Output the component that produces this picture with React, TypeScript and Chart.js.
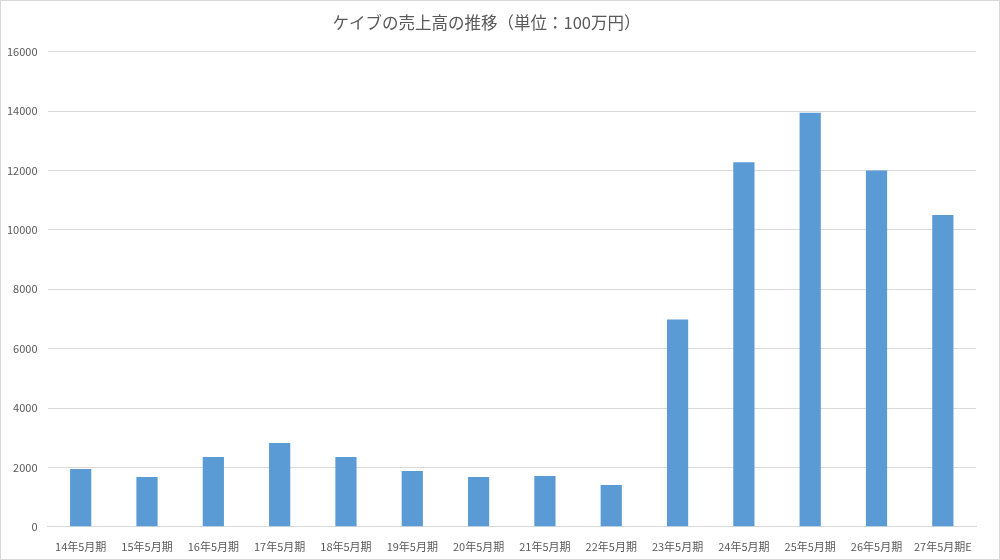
import { useEffect, useRef } from 'react';
import { Chart, registerables } from 'chart.js';

Chart.register(...registerables);

const periods = [
  '14年5月期', '15年5月期', '16年5月期', '17年5月期', '18年5月期', '19年5月期', '20年5月期',
  '21年5月期', '22年5月期', '23年5月期', '24年5月期', '25年5月期', '26年5月期', '27年5月期E'
];
const sales = [1950, 1680, 2350, 2820, 2350, 1880, 1680, 1710, 1410, 6980, 12280, 13950, 12000, 10500];
const chartTitle = 'ケイブの売上高の推移（単位：100万円）';

const FONT = '"Noto Sans CJK JP", "Noto Sans", sans-serif';

export default function App() {
  const canvasRef = useRef<HTMLCanvasElement>(null);

  useEffect(() => {
    document.body.style.margin = '0';
    const canvas = canvasRef.current;
    if (!canvas) return;
    const context = canvas.getContext('2d');
    if (!context) return;
    const chart = new Chart(context, {
      type: 'bar',
      data: {
        labels: periods,
        datasets: [{
          label: '売上高',
          data: sales,
          backgroundColor: '#5B9BD5',
          borderWidth: 0,
          categoryPercentage: 1,
          barPercentage: 0.32
        }]
      },
      options: {
        animation: false,
        responsive: true,
        maintainAspectRatio: false,
        layout: { padding: { left: -4, right: 23, top: 8, bottom: 1 } },
        plugins: {
          legend: { display: false },
          tooltip: { enabled: false },
          title: {
            display: true,
            text: chartTitle,
            color: '#595959',
            font: { family: FONT, size: 16.5, weight: 'normal' },
            padding: { top: 4, bottom: 19 }
          }
        },
        scales: {
          x: {
            grid: { display: false },
            border: { color: '#D9D9D9' },
            ticks: { color: '#595959', font: { family: FONT, size: 11 }, maxRotation: 0, autoSkip: false, padding: 5 }
          },
          y: {
            min: 0,
            max: 16000,
            ticks: {
              stepSize: 2000,
              color: '#595959',
              font: { family: FONT, size: 11 },
              padding: 10,
              callback: (v) => String(v)
            },
            grid: { color: '#D9D9D9', drawTicks: false },
            border: { display: false }
          }
        }
      }
    });
    return () => {
      chart.destroy();
    };
  }, []);

  return (
    <div style={{ width: 1000, height: 560, boxSizing: 'border-box', border: '1px solid #D9D9D9', background: '#fff' }}>
      <canvas ref={canvasRef} />
    </div>
  );
}
